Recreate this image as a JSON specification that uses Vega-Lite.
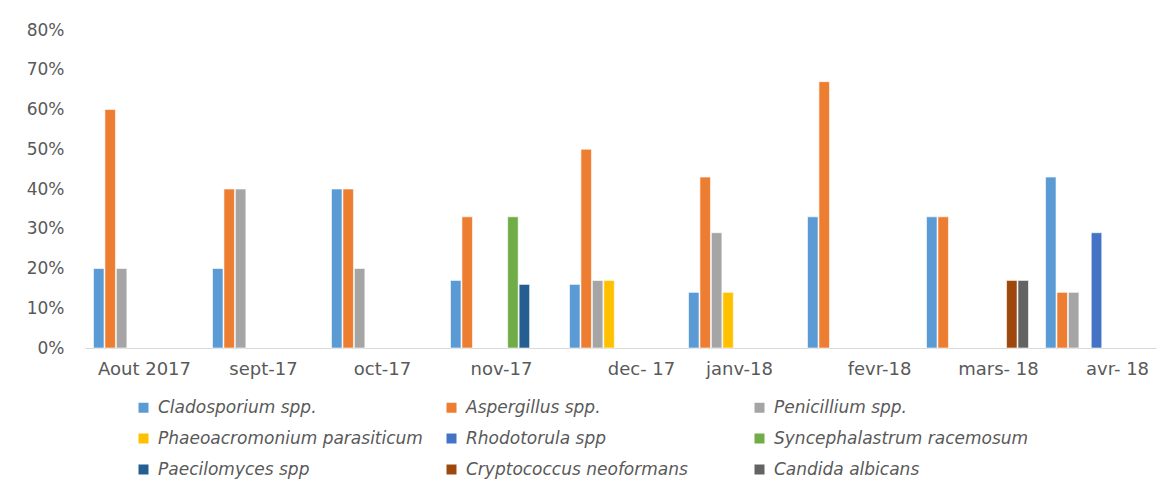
{
  "$schema": "https://vega.github.io/schema/vega-lite/v6.json",
  "width": 1071,
  "height": 318,
  "autosize": {"type": "none"},
  "padding": {"left": 85, "top": 30, "right": 14, "bottom": 141},
  "background": "white",
  "config": {
    "view": {"stroke": null},
    "font": "DejaVu Sans"
  },
  "data": {
    "values": [
      {"mois": "Aout 2017", "espece": "Cladosporium spp.", "pct": 0.20},
      {"mois": "Aout 2017", "espece": "Aspergillus spp.", "pct": 0.60},
      {"mois": "Aout 2017", "espece": "Penicillium spp.", "pct": 0.20},
      {"mois": "sept-17", "espece": "Cladosporium spp.", "pct": 0.20},
      {"mois": "sept-17", "espece": "Aspergillus spp.", "pct": 0.40},
      {"mois": "sept-17", "espece": "Penicillium spp.", "pct": 0.40},
      {"mois": "oct-17", "espece": "Cladosporium spp.", "pct": 0.40},
      {"mois": "oct-17", "espece": "Aspergillus spp.", "pct": 0.40},
      {"mois": "oct-17", "espece": "Penicillium spp.", "pct": 0.20},
      {"mois": "nov-17", "espece": "Cladosporium spp.", "pct": 0.17},
      {"mois": "nov-17", "espece": "Aspergillus spp.", "pct": 0.33},
      {"mois": "nov-17", "espece": "Syncephalastrum racemosum", "pct": 0.33},
      {"mois": "nov-17", "espece": "Paecilomyces spp", "pct": 0.16},
      {"mois": "dec- 17", "espece": "Cladosporium spp.", "pct": 0.16},
      {"mois": "dec- 17", "espece": "Aspergillus spp.", "pct": 0.50},
      {"mois": "dec- 17", "espece": "Penicillium spp.", "pct": 0.17},
      {"mois": "dec- 17", "espece": "Phaeoacromonium parasiticum", "pct": 0.17},
      {"mois": "janv-18", "espece": "Cladosporium spp.", "pct": 0.14},
      {"mois": "janv-18", "espece": "Aspergillus spp.", "pct": 0.43},
      {"mois": "janv-18", "espece": "Penicillium spp.", "pct": 0.29},
      {"mois": "janv-18", "espece": "Phaeoacromonium parasiticum", "pct": 0.14},
      {"mois": "fevr-18", "espece": "Cladosporium spp.", "pct": 0.33},
      {"mois": "fevr-18", "espece": "Aspergillus spp.", "pct": 0.67},
      {"mois": "mars- 18", "espece": "Cladosporium spp.", "pct": 0.33},
      {"mois": "mars- 18", "espece": "Aspergillus spp.", "pct": 0.33},
      {"mois": "mars- 18", "espece": "Cryptococcus neoformans", "pct": 0.17},
      {"mois": "mars- 18", "espece": "Candida albicans", "pct": 0.17},
      {"mois": "avr- 18", "espece": "Cladosporium spp.", "pct": 0.43},
      {"mois": "avr- 18", "espece": "Aspergillus spp.", "pct": 0.14},
      {"mois": "avr- 18", "espece": "Penicillium spp.", "pct": 0.14},
      {"mois": "avr- 18", "espece": "Rhodotorula spp", "pct": 0.29}
    ]
  },
  "mark": {"type": "bar", "stroke": "white", "strokeWidth": 0.6},
  "encoding": {
    "x": {
      "field": "mois",
      "type": "nominal",
      "sort": ["Aout 2017", "sept-17", "oct-17", "nov-17", "dec- 17", "janv-18", "fevr-18", "mars- 18", "avr- 18"],
      "scale": {"paddingInner": 0.143, "paddingOuter": 0.0714},
      "axis": {
        "title": null,
        "labelAngle": 0,
        "ticks": false,
        "domainColor": "#D9D9D9",
        "domainWidth": 1,
        "labelColor": "#595959",
        "labelFontSize": 18,
        "labelPadding": 12,
        "labelOverlap": false,
        "labelOffset": {"condition": {"test": "datum.value == 'dec- 17' || datum.value == 'fevr-18' || datum.value == 'mars- 18' || datum.value == 'avr- 18'", "value": 21}, "value": 0}
      }
    },
    "xOffset": {
      "field": "espece",
      "type": "nominal",
      "scale": {
        "domain": ["Cladosporium spp.", "Aspergillus spp.", "Penicillium spp.", "Phaeoacromonium parasiticum", "Rhodotorula spp", "Syncephalastrum racemosum", "Paecilomyces spp", "Cryptococcus neoformans", "Candida albicans"],
        "paddingInner": 0.08,
        "paddingOuter": 0
      }
    },
    "y": {
      "field": "pct",
      "type": "quantitative",
      "scale": {"domain": [0, 0.8]},
      "axis": {
        "title": null,
        "format": ".0%",
        "values": [0, 0.1, 0.2, 0.3, 0.4, 0.5, 0.6, 0.7, 0.8],
        "labelOverlap": false,
        "domain": false,
        "ticks": false,
        "grid": false,
        "labelColor": "#595959",
        "labelFontSize": 17,
        "labelPadding": 21
      }
    },
    "color": {
      "field": "espece",
      "type": "nominal",
      "scale": {
        "domain": ["Cladosporium spp.", "Aspergillus spp.", "Penicillium spp.", "Phaeoacromonium parasiticum", "Rhodotorula spp", "Syncephalastrum racemosum", "Paecilomyces spp", "Cryptococcus neoformans", "Candida albicans"],
        "range": ["#5B9BD5", "#ED7D31", "#A5A5A5", "#FFC000", "#4472C4", "#70AD47", "#255E91", "#9E480E", "#636363"]
      },
      "legend": {
        "title": null,
        "orient": "none",
        "legendX": 50,
        "legendY": 369,
        "direction": "horizontal",
        "columns": 3,
        "gridAlign": "all",
        "columnPadding": 20,
        "rowPadding": 13,
        "symbolType": "square",
        "symbolSize": 100,
        "symbolStrokeWidth": 0,
        "symbolOffset": 0,
        "labelOffset": 6,
        "labelFontSize": 17,
        "labelFontStyle": "italic",
        "labelColor": "#595959",
        "labelLimit": 400
      }
    }
  }
}
